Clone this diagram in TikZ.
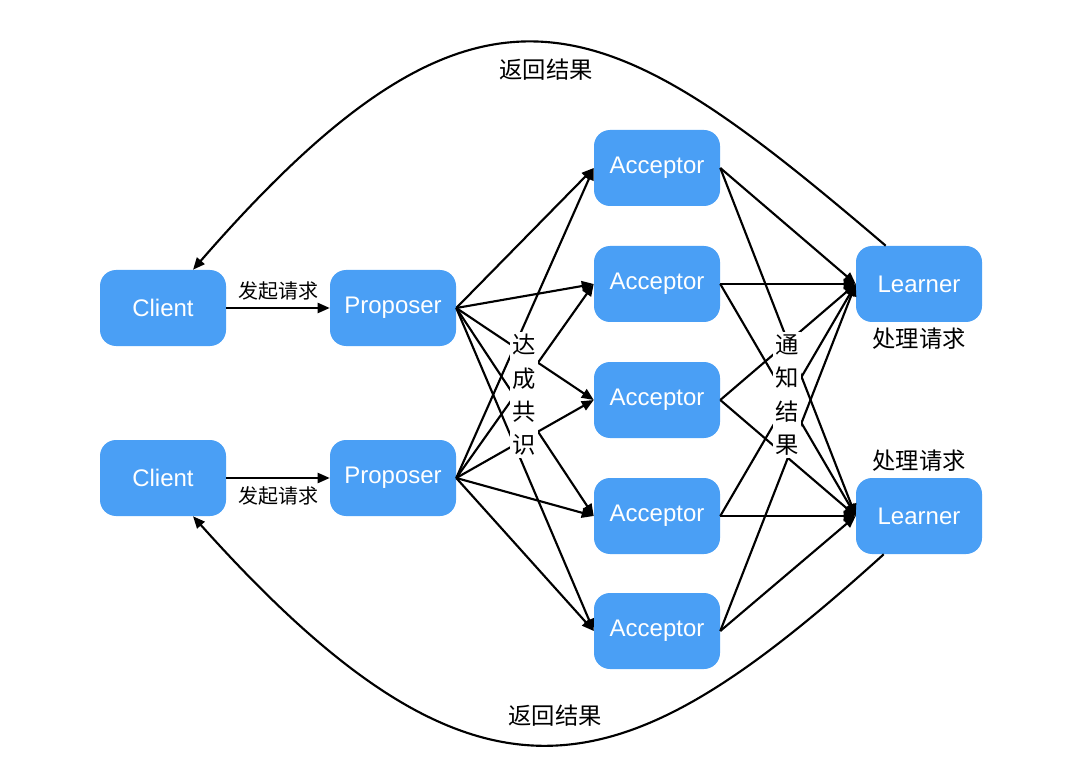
\documentclass[tikz,border=0pt]{standalone}
\usepackage{fontspec}
\setmainfont{Liberation Sans}
\newfontfamily\cjk{Noto Sans CJK SC}
\usetikzlibrary{
  	positioning,
  	arrows.meta,
  	calc
  }
\definecolor{nodeblue}{RGB}{74,159,245}
\tikzstyle{box}=[rectangle,rounded corners=12pt,fill=nodeblue,text=white,minimum width=94.5pt,minimum height=57pt,font=\fontsize{18}{20}\selectfont]
\tikzstyle{arr}=[-{Triangle[length=9pt,width=7.5pt]},line width=1.6pt]
\tikzstyle{lbl}=[font=\cjk\fontsize{15}{18}\selectfont]
\tikzstyle{vlbl}=[fill=white,inner sep=2pt,align=center,font=\cjk\fontsize{17.5}{25}\selectfont]

\begin{document}
\begin{tikzpicture}[x=0.75pt,y=-0.75pt]
\useasboundingbox (0,0) rectangle (1071,784);
\node[box] (c1) at (163,308) {Client};
\node[box] (c2) at (163,478) {Client};
\path (c1)++(230,0) node[box] (p1) {Proposer};
\path (c2)++(230,0) node[box] (p2) {Proposer};
\foreach \i/\y in {1/168,2/284,3/400,4/516,5/631}
  \node[box] (a\i) at (657,\y) {Acceptor};
\node[box] (l1) at (919,284) {Learner};
\node[box] (l2) at (919,516) {Learner};
% requests
\draw[arr] (c1) -- (p1) node[lbl,midway,above=2pt] {发起请求};
\draw[arr] (c2) -- (p2) node[lbl,midway,below=2pt] {发起请求};
\foreach \p in {p1,p2}
  \foreach \i in {1,...,5}
    \draw[arr] (\p.east) -- (a\i.west);
\foreach \i in {1,...,5}
  \foreach \l in {l1,l2}
    \draw[arr] (a\i.east) -- (\l.west);
\node[vlbl] (agree) at (524,395) {达\\成\\共\\识};
\node[vlbl] (notify) at (787,395) {通\\知\\结\\果};
\node[lbl,font=\cjk\fontsize{17.5}{20}\selectfont,below=1pt of l1] (h1) {处理请求};
\node[lbl,font=\cjk\fontsize{17.5}{20}\selectfont,above=1pt of l2] (h2) {处理请求};
% results back to clients
\coordinate (s1) at ([xshift=22.5pt]l1.north west);
\coordinate (e1) at ([xshift=22.5pt]c1.north);
\coordinate (s2) at ([xshift=21pt]l2.south west);
\coordinate (e2) at ([xshift=22.5pt]c2.south);
\draw[arr] (s1) .. controls (608,9) and (485,-66) .. (e1);
\draw[arr] (s2) .. controls (624,789) and (483,840) .. (e2);
\node[lbl,font=\cjk\fontsize{17.5}{20}\selectfont] (r1) at (546,70) {返回结果};
\node[lbl,font=\cjk\fontsize{17.5}{20}\selectfont] (r2) at (555,716) {返回结果};
\end{tikzpicture}
\end{document}
